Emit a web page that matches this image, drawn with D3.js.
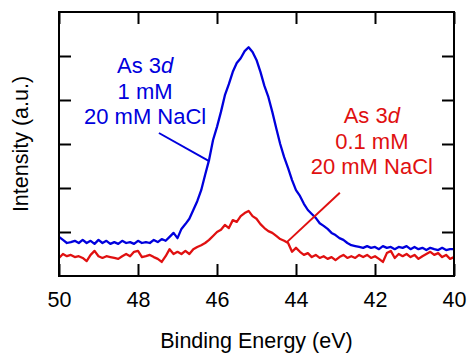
<!DOCTYPE html>
<html lang="en">
<head>
<meta charset="UTF-8">
<title>As 3d XPS</title>
<script src="https://d3js.org/d3.v7.min.js"></script>
<style>
  body { margin: 0; background: white; }
  svg { display: block; font-family: "Liberation Sans", Arial, sans-serif; }
  .frame { fill: none; stroke: black; stroke-width: 2; }
  .axis path { display: none; }
  .axis line { stroke: black; stroke-width: 2; }
  .axis text { font-size: 21.5px; fill: black; font-family: "Liberation Sans", Arial, sans-serif; }
  .title { font-size: 21.5px; fill: black; }
  .note { font-size: 22px; text-anchor: middle; }
</style>
</head>
<body>
<script>
// binding energy grid, 50 -> 40 eV
const energy = d3.range(0, 101).map(i => +(50 - i * 0.1).toFixed(1));

// 1 mM As, 20 mM NaCl
const blue = [
  0.89, 0.82, 0.75, 0.77, 0.80, 0.75, 0.82, 0.75, 0.80, 0.73,
  0.82, 0.75, 0.80, 0.73, 0.77, 0.73, 0.80, 0.75, 0.77, 0.73,
  0.80, 0.75, 0.77, 0.75, 0.82, 0.77, 0.84, 0.80, 0.89, 0.98,
  0.86, 1.07, 1.18, 1.30, 1.50, 1.70, 1.95, 2.30, 2.64, 3.09,
  3.39, 3.73, 4.11, 4.36, 4.64, 4.84, 4.95, 5.11, 5.20, 5.09,
  4.91, 4.64, 4.32, 4.07, 3.73, 3.36, 3.00, 2.70, 2.45, 2.18,
  1.95, 1.82, 1.64, 1.50, 1.41, 1.32, 1.20, 1.14, 1.07, 0.98,
  0.93, 0.86, 0.82, 0.75, 0.70, 0.68, 0.66, 0.64, 0.68, 0.64,
  0.66, 0.61, 0.68, 0.64, 0.66, 0.61, 0.66, 0.64, 0.68, 0.61,
  0.66, 0.61, 0.64, 0.59, 0.64, 0.61, 0.59, 0.64, 0.59, 0.61,
  0.61
];

// 0.1 mM As, 20 mM NaCl
const red = [
  0.41, 0.50, 0.45, 0.48, 0.43, 0.45, 0.41, 0.34, 0.48, 0.57,
  0.45, 0.41, 0.45, 0.43, 0.41, 0.39, 0.45, 0.50, 0.45, 0.55,
  0.57, 0.43, 0.45, 0.48, 0.43, 0.39, 0.32, 0.45, 0.61, 0.50,
  0.55, 0.50, 0.57, 0.50, 0.61, 0.66, 0.70, 0.75, 0.82, 0.91,
  1.00, 1.05, 1.16, 1.09, 1.27, 1.23, 1.36, 1.43, 1.48, 1.36,
  1.30, 1.18, 1.09, 1.02, 0.98, 0.91, 0.84, 0.80, 0.75, 0.55,
  0.64, 0.55, 0.48, 0.52, 0.43, 0.48, 0.41, 0.45, 0.39, 0.43,
  0.36, 0.43, 0.48, 0.41, 0.45, 0.41, 0.48, 0.43, 0.48, 0.41,
  0.45, 0.39, 0.32, 0.52, 0.57, 0.41, 0.50, 0.45, 0.50, 0.43,
  0.48, 0.39, 0.45, 0.50, 0.55, 0.48, 0.52, 0.43, 0.48, 0.39,
  0.43
];

const xTicks = [50, 48, 46, 44, 42, 40];
const yTicks = [1, 2, 3, 4, 5];

const blueNote = ["As 3", "1 mM", "20 mM NaCl"];
const redNote = ["As 3", "0.1 mM", "20 mM NaCl"];

const width = 468, height = 353;
const margin = {top: 12, right: 14, bottom: 77, left: 59};
const innerW = width - margin.left - margin.right;
const innerH = height - margin.top - margin.bottom;

const svg = d3.select("body").append("svg")
    .attr("width", width)
    .attr("height", height);

const g = svg.append("g")
    .attr("transform", `translate(${margin.left},${margin.top})`);

const x = d3.scaleLinear().domain([50, 40]).range([0, innerW]);
const y = d3.scaleLinear().domain([0, 6]).range([innerH, 0]);

// axes, ticks pointing inwards
g.append("g").attr("class", "axis")
    .attr("transform", `translate(0,${innerH})`)
    .call(d3.axisBottom(x).tickValues(xTicks).tickSize(-12).tickSizeOuter(0).tickPadding(16));
g.append("g").attr("class", "axis")
    .call(d3.axisTop(x).tickValues(xTicks).tickSize(-12).tickSizeOuter(0).tickFormat(""));
g.append("g").attr("class", "axis")
    .call(d3.axisLeft(y).tickValues(yTicks).tickSize(-12).tickSizeOuter(0).tickFormat(""));
g.append("g").attr("class", "axis")
    .attr("transform", `translate(${innerW},0)`)
    .call(d3.axisRight(y).tickValues(yTicks).tickSize(-12).tickSizeOuter(0).tickFormat(""));

const line = d3.line()
    .x((d, i) => x(energy[i]))
    .y(d => y(d));

g.append("path").datum(red)
    .attr("fill", "none").attr("stroke", "#e01010").attr("stroke-width", 2.3)
    .attr("stroke-linejoin", "round")
    .attr("d", line);
g.append("path").datum(blue)
    .attr("fill", "none").attr("stroke", "#0000dd").attr("stroke-width", 2.3)
    .attr("stroke-linejoin", "round")
    .attr("d", line);

g.append("rect").attr("class", "frame")
    .attr("x", 0).attr("y", 0)
    .attr("width", innerW).attr("height", innerH);

// annotations
function note(lines, ex, baseY, color) {
    const t = g.append("text").attr("class", "note").attr("fill", color);
    lines.forEach((s, i) => {
        t.append("tspan").attr("x", x(ex)).attr("y", baseY + i * 25.5).text(s);
        if (i === 0) t.append("tspan").attr("font-style", "italic").text("d");
    });
}
note(blueNote, 47.82, 61, "#0000dd");
note(redNote, 42.08, 111, "#e01010");

g.append("line")
    .attr("x1", x(47.47)).attr("y1", y(3.25))
    .attr("x2", x(46.20)).attr("y2", y(2.61))
    .attr("stroke", "#0000dd").attr("stroke-width", 2);
g.append("line")
    .attr("x1", x(42.89)).attr("y1", y(1.89))
    .attr("x2", x(44.23)).attr("y2", y(0.77))
    .attr("stroke", "#e01010").attr("stroke-width", 2);

svg.append("text").attr("class", "title")
    .attr("x", margin.left + innerW / 2).attr("y", 348)
    .attr("text-anchor", "middle")
    .text("Binding Energy (eV)");

svg.append("text").attr("class", "title")
    .attr("transform", `translate(28,${margin.top + innerH / 2}) rotate(-90)`)
    .attr("text-anchor", "middle")
    .text("Intensity (a.u.)");
</script>
</body>
</html>
